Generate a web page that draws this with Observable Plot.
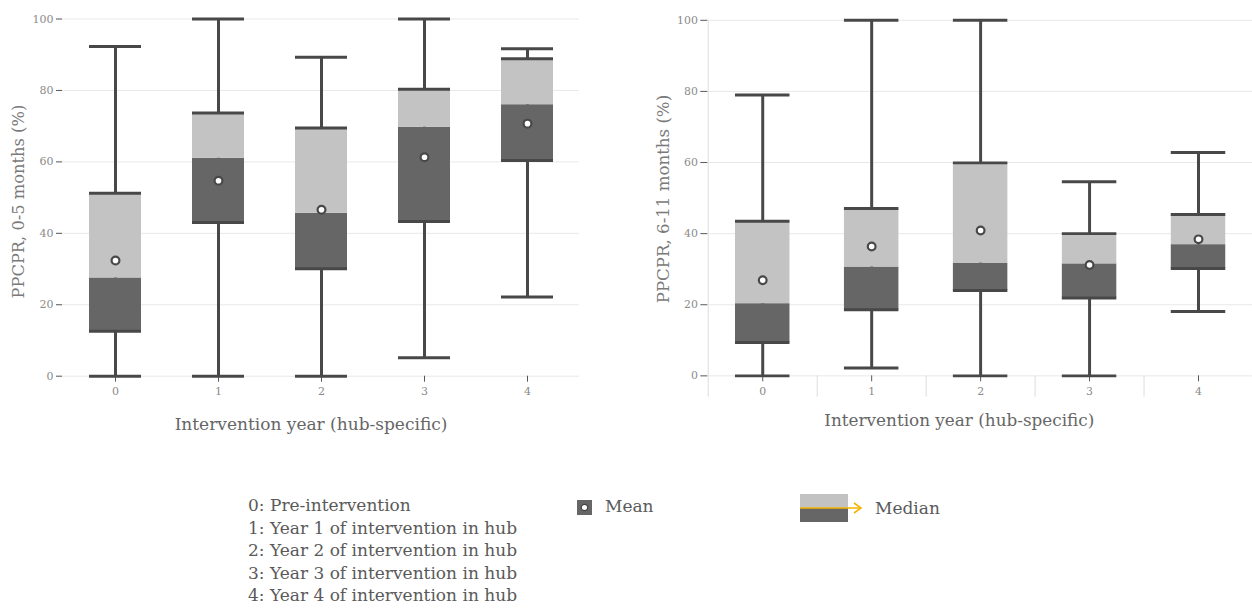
<!DOCTYPE html>
<html>
<head>
<meta charset="utf-8">
<script src="https://cdn.jsdelivr.net/npm/d3@7"></script>
<script src="https://cdn.jsdelivr.net/npm/@observablehq/plot@0.6"></script>
<style>
  html, body { margin: 0; padding: 0; background: #fff; width: 1252px; height: 609px; overflow: hidden; }
  body { position: relative; font-family: "DejaVu Serif", "Liberation Serif", serif; }
  .chart { position: absolute; top: 0; }
  .chart svg { overflow: visible; font-family: "DejaVu Serif", "Liberation Serif", serif; }
  g[aria-label="y-axis tick label"], g[aria-label="x-axis tick label"] { fill: #8a8a8a; }
  .legend { position: absolute; color: #5a5a5a; font-size: 17px; }
</style>
</head>
<body>
<div id="left" class="chart" style="left:0px"></div>
<div id="right" class="chart" style="left:630px"></div>

<div class="legend" style="left:248px; top:494px; line-height:22.5px;">
  <div id="yearNotes"></div>
</div>
<div class="legend" style="left:576px; top:494px;">
  <svg width="18" height="18" style="position:absolute; left:0; top:5px">
    <rect x="1" y="1" width="15" height="15" fill="#666"></rect>
    <circle cx="8.5" cy="8.5" r="3.2" fill="#fff" stroke="#444" stroke-width="1.2"></circle>
  </svg>
  <span style="position:absolute; left:29px; top:2px; white-space:nowrap">Mean</span>
</div>
<div class="legend" style="left:800px; top:494px;">
  <svg width="70" height="30" style="position:absolute; left:0; top:0">
    <rect x="0" y="0" width="48" height="14" fill="#c2c2c2"></rect>
    <rect x="0" y="14" width="48" height="14" fill="#666"></rect>
    <line x1="0" y1="14" x2="61" y2="14" stroke="#f5b400" stroke-width="1.6"></line>
    <polyline points="54,9 61,14 54,19" fill="none" stroke="#f5b400" stroke-width="1.6"></polyline>
  </svg>
  <span style="position:absolute; left:75px; top:4px; white-space:nowrap">Median</span>
</div>

<script>
// ---- data ----
const years = [0, 1, 2, 3, 4];
const yearNotes = [
  "0: Pre-intervention",
  "1: Year 1 of intervention in hub",
  "2: Year 2 of intervention in hub",
  "3: Year 3 of intervention in hub",
  "4: Year 4 of intervention in hub"
];
const yTicks = [0, 20, 40, 60, 80, 100];
const xTitle = "Intervention year (hub-specific)";
const yTitleLeft = "PPCPR, 0-5 months (%)";
const yTitleRight = "PPCPR, 6-11 months (%)";

// PPCPR 0-5 months
const min05  = [0, 0, 0, 5.2, 22.2];
const q1_05  = [12.6, 43.0, 30.1, 43.3, 60.4];
const med05  = [27.5, 61.0, 45.6, 69.7, 76.0];
const q3_05  = [51.2, 73.7, 69.5, 80.3, 88.9];
const max05  = [92.3, 100, 89.3, 100, 91.7];
const mean05 = [32.4, 54.7, 46.6, 61.3, 70.7];

// PPCPR 6-11 months
const min611  = [0, 2.2, 0, 0, 18.1];
const q1_611  = [9.4, 18.6, 24.0, 21.9, 30.2];
const med611  = [20.3, 30.6, 31.7, 31.5, 36.9];
const q3_611  = [43.5, 47.1, 59.9, 40.0, 45.4];
const max611  = [79.0, 100, 100, 54.6, 62.8];
const mean611 = [26.9, 36.4, 40.9, 31.2, 38.4];

document.getElementById("yearNotes").innerHTML = yearNotes.map(t => `<div>${t}</div>`).join("");

const DARK = "#484848", BOXDARK = "#666666", BOXLIGHT = "#c3c3c3", GRID = "#e8e8e8";

function rowsOf(mn, q1, md, q3, mx, mean) {
  return years.map((y, i) => ({year: y, min: mn[i], q1: q1[i], med: md[i], q3: q3[i], max: mx[i], mean: mean[i]}));
}

function boxMarks(rows) {
  return [
    Plot.ruleX(rows, {x: "year", y1: "min", y2: "max", stroke: DARK, strokeWidth: 3}),
    Plot.barY(rows, {x: "year", y1: "q1", y2: "med", fill: BOXDARK}),
    Plot.barY(rows, {x: "year", y1: "med", y2: "q3", fill: BOXLIGHT}),
    Plot.tickY(rows, {x: "year", y: "q1", stroke: DARK, strokeWidth: 3}),
    Plot.tickY(rows, {x: "year", y: "q3", stroke: DARK, strokeWidth: 3}),
    Plot.tickY(rows, {x: "year", y: "min", stroke: DARK, strokeWidth: 3}),
    Plot.tickY(rows, {x: "year", y: "max", stroke: DARK, strokeWidth: 3}),
    Plot.dot(rows, {x: "year", y: "mean", r: 3.9, fill: "#fff", stroke: DARK, strokeWidth: 2.2})
  ];
}

// ---- left chart ----
const leftRows = rowsOf(min05, q1_05, med05, q3_05, max05, mean05);
const left = Plot.plot({
  width: 600, height: 440,
  marginLeft: 62, marginRight: 21, marginTop: 18.5, marginBottom: 64.3,
  style: {background: "transparent", overflow: "visible"},
  x: {domain: years, paddingInner: 0.5, paddingOuter: 0.25, axis: null},
  y: {domain: [0, 100], axis: null},
  marks: [
    Plot.ruleY(yTicks, {stroke: GRID, strokeWidth: 1}),
    Plot.axisY(yTicks, {tickSize: 6, tickPadding: 3, label: null, fontSize: 11, stroke: "#555"}),
    Plot.axisX({tickSize: 6, tickPadding: 5, label: null, fontSize: 11, stroke: "#555"}),
    ...boxMarks(leftRows),
    Plot.text([xTitle], {frameAnchor: "bottom", dx: -10, dy: 48, lineAnchor: "middle", textAnchor: "middle", fontSize: 17, fill: "#666"}),
    Plot.text([yTitleLeft], {frameAnchor: "left", rotate: -90, dx: -44, dy: 4, lineAnchor: "middle", textAnchor: "middle", fontSize: 16.3, fill: "#7a7a7a"})
  ]
});
document.getElementById("left").appendChild(left);

// ---- right chart ----
const rightRows = rowsOf(min611, q1_611, med611, q3_611, max611, mean611);
const right = Plot.plot({
  width: 628, height: 440,
  marginLeft: 78, marginRight: 0, marginTop: 20, marginBottom: 61,
  style: {background: "transparent", overflow: "visible"},
  x: {domain: years, paddingInner: 0.5, paddingOuter: 0.25, axis: null},
  y: {domain: [0, 100], axis: null},
  marks: [
    Plot.ruleY(yTicks, {stroke: GRID, strokeWidth: 1}),
    Plot.ruleX(years, {x: d => d, dx: -55, y1: 0, y2: -6, stroke: "#dddddd"}),
    Plot.ruleX(years.slice(0, 1), {x: d => d, dx: -55, y1: 0, y2: 100, stroke: "#dddddd"}),
    Plot.axisY(yTicks, {tickSize: 7, tickPadding: 3, label: null, fontSize: 11, stroke: "#555"}),
    Plot.axisX({tickSize: 6, tickPadding: 5, label: null, fontSize: 11, stroke: "#555"}),
    ...boxMarks(rightRows),
    Plot.text([xTitle], {frameAnchor: "bottom", dx: -21, dy: 45, lineAnchor: "middle", textAnchor: "middle", fontSize: 17, fill: "#666"}),
    Plot.text([yTitleRight], {frameAnchor: "left", rotate: -90, dx: -45, dy: 1, lineAnchor: "middle", textAnchor: "middle", fontSize: 16.8, fill: "#7a7a7a"})
  ]
});
document.getElementById("right").appendChild(right);
</script>
</body>
</html>
